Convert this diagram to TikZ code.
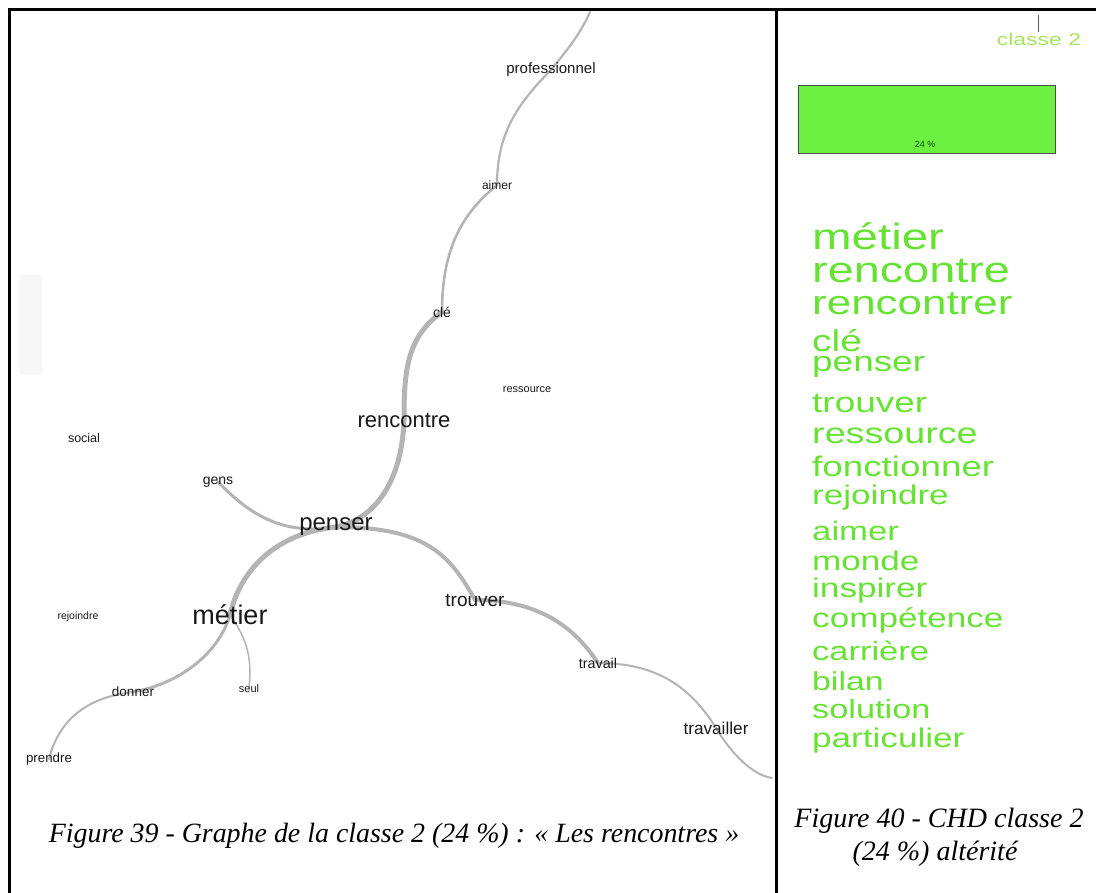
\documentclass[tikz,border=0pt]{standalone}
\usepackage{fontspec}
\usepackage{graphicx}
\usetikzlibrary{backgrounds}
\setmainfont{Liberation Serif}
\newfontfamily\lsans{Liberation Sans}
\newcommand\fsz[1]{\fontsize{#1pt}{#1pt}\selectfont}
\definecolor{edgegray}{RGB}{180,180,180}
\definecolor{wordgreen}{RGB}{102,226,51}
\definecolor{barfill}{RGB}{108,240,66}
\definecolor{classgreen}{RGB}{165,228,95}
\definecolor{lbltext}{RGB}{25,25,25}
\begin{document}
\begin{tikzpicture}[x=1pt,y=-1pt,
  lbl/.style={inner sep=0pt, text=lbltext, font=\lsans\fsz{#1}},
  cedge/.style={draw=edgegray, line cap=round, line width=#1},
  gword/.style={anchor=base west, inner sep=0pt, text=wordgreen, font=\lsans\fsz{#1}},
  frame/.style={line width=2.3pt, draw=black}]
\useasboundingbox (0,0) rectangle (1096,893);

% frame of the table
\draw[frame] (9.5,893) -- (9.5,9.5) -- (1096,9.5);
\draw[frame] (776.5,9.5) -- (776.5,893);

% faint artefact on the left
\fill[gray!6] (19,275) rectangle (42,375);

% ---- graph labels ----
\node[lbl=15] (prof) at (551,70) {professionnel};
\node[lbl=12] (aimer) at (497,185) {aimer};
\node[lbl=14] (cle) at (442,312) {clé};
\node[lbl=11] (ress) at (527,390) {ressource};
\node[lbl=22] (renc) at (404,420) {rencontre};
\node[lbl=12.5] (social) at (84,438) {social};
\node[lbl=14] (gens) at (218,482) {gens};
\node[lbl=24] (penser) at (336,527) {penser};
\node[lbl=27] (metier) at (230,615) {métier};
\node[lbl=10.5] (rejo) at (78,617) {rejoindre};
\node[lbl=13.5] (donner) at (133,692) {donner};
\node[lbl=11] (seul) at (249,689) {seul};
\node[lbl=13.3] (prendre) at (49,759) {prendre};
\node[lbl=19] (trouver) at (475,600) {trouver};
\node[lbl=14.3] (travail) at (598,663) {travail};
\node[lbl=17.2] (travailler) at (716,728) {travailler};
\coordinate (topend) at (590,12);
\coordinate (brend) at (772,778);

% ---- graph edges ----
\begin{scope}[on background layer]
\draw[cedge=2.2] (topend) .. controls +(-10,22) and +(20,-25) .. (prof.center);
\draw[cedge=2.2] (prof.center) .. controls +(-35,35) and +(0,-50) .. (aimer.center);
\draw[cedge=2.6] (aimer.center) .. controls +(-30,25) and +(0,-70) .. (cle.center);
\draw[cedge=5] (cle.center) .. controls +(-35,25) and +(0,-50) .. (renc.center);
\draw[cedge=5] (renc.center) .. controls +(-2,60) and +(40,-8) .. (penser.center);
\draw[cedge=3] (penser.center) .. controls +(-60,10) and +(25,25) .. (gens.center);
\draw[cedge=5] (penser.center) .. controls +(-60,6) and +(10,-45) .. (metier.center);
\draw[cedge=3] (metier.center) .. controls +(-12,40) and +(45,-8) .. (donner.center);
\draw[cedge=2] (donner.center) .. controls +(-45,5) and +(10,-40) .. (prendre.center);
\draw[cedge=1.5] (metier.center) .. controls +(18,25) and +(3,-30) .. (seul.center);
\draw[cedge=4] (penser.center) .. controls +(90,0) and +(-25,-45) .. (trouver.center);
\draw[cedge=4] (trouver.center) .. controls +(70,0) and +(-20,-30) .. (travail.center);
\draw[cedge=2] (travail.center) .. controls +(60,0) and +(-25,-40) .. (travailler.center);
\draw[cedge=2] (travailler.center) .. controls +(15,25) and +(-20,-3) .. (brend);
\end{scope}

% ---- right panel ----
\draw[black!65, line width=1pt] (1038,15) -- (1038,32);
\node[inner sep=0pt, text=classgreen, font=\lsans\fsz{17}] (classe) at (1039,39) {\scalebox{1.35}[1]{classe 2}};
\node[draw=black!70, line width=0.8pt, fill=barfill, minimum width=257pt, minimum height=68pt, inner sep=0pt] (bar) at (926.5,119) {};
\node[inner sep=0pt, text=green!35!black, font=\lsans\fsz{9}] (pct) at (925,144) {24 \%};

\node[gword=36.5] (w1) at (812,250) {\scalebox{1.3}[1]{métier}};
\node[gword=36] (w2) at (812,283) {\scalebox{1.3}[1]{rencontre}};
\node[gword=33.8] (w3) at (812,315) {\scalebox{1.3}[1]{rencontrer}};
\node[gword=30] (w4) at (812,352) {\scalebox{1.3}[1]{clé}};
\node[gword=28.4] (w5) at (812,372) {\scalebox{1.3}[1]{penser}};
\node[gword=28.4] (w6) at (812,413) {\scalebox{1.3}[1]{trouver}};
\node[gword=29] (w7) at (812,444) {\scalebox{1.3}[1]{ressource}};
\node[gword=28.3] (w8) at (812,476) {\scalebox{1.3}[1]{fonctionner}};
\node[gword=27] (w9) at (812,504) {\scalebox{1.3}[1]{rejoindre}};
\node[gword=26.7] (w10) at (812,540) {\scalebox{1.3}[1]{aimer}};
\node[gword=27] (w11) at (812,570) {\scalebox{1.3}[1]{monde}};
\node[gword=27] (w12) at (812,597) {\scalebox{1.3}[1]{inspirer}};
\node[gword=27] (w13) at (812,627) {\scalebox{1.3}[1]{compétence}};
\node[gword=26.5] (w14) at (812,660) {\scalebox{1.3}[1]{carrière}};
\node[gword=26] (w15) at (812,690) {\scalebox{1.3}[1]{bilan}};
\node[gword=26.4] (w16) at (812,718) {\scalebox{1.3}[1]{solution}};
\node[gword=27] (w17) at (812,747) {\scalebox{1.3}[1]{particulier}};

% ---- captions ----
\node[anchor=base, inner sep=0pt, font=\itshape\fsz{27.9}] (cap39) at (394,842) {Figure 39 - Graphe de la classe 2 (24 \%) : « Les rencontres »};
\node[anchor=base, inner sep=0pt, font=\itshape\fsz{28}] (cap40a) at (939,827) {Figure 40 - CHD classe 2};
\node[anchor=base, inner sep=0pt, font=\itshape\fsz{28}] (cap40b) at (935,860) {(24 \%) altérité};
\end{tikzpicture}
\end{document}
